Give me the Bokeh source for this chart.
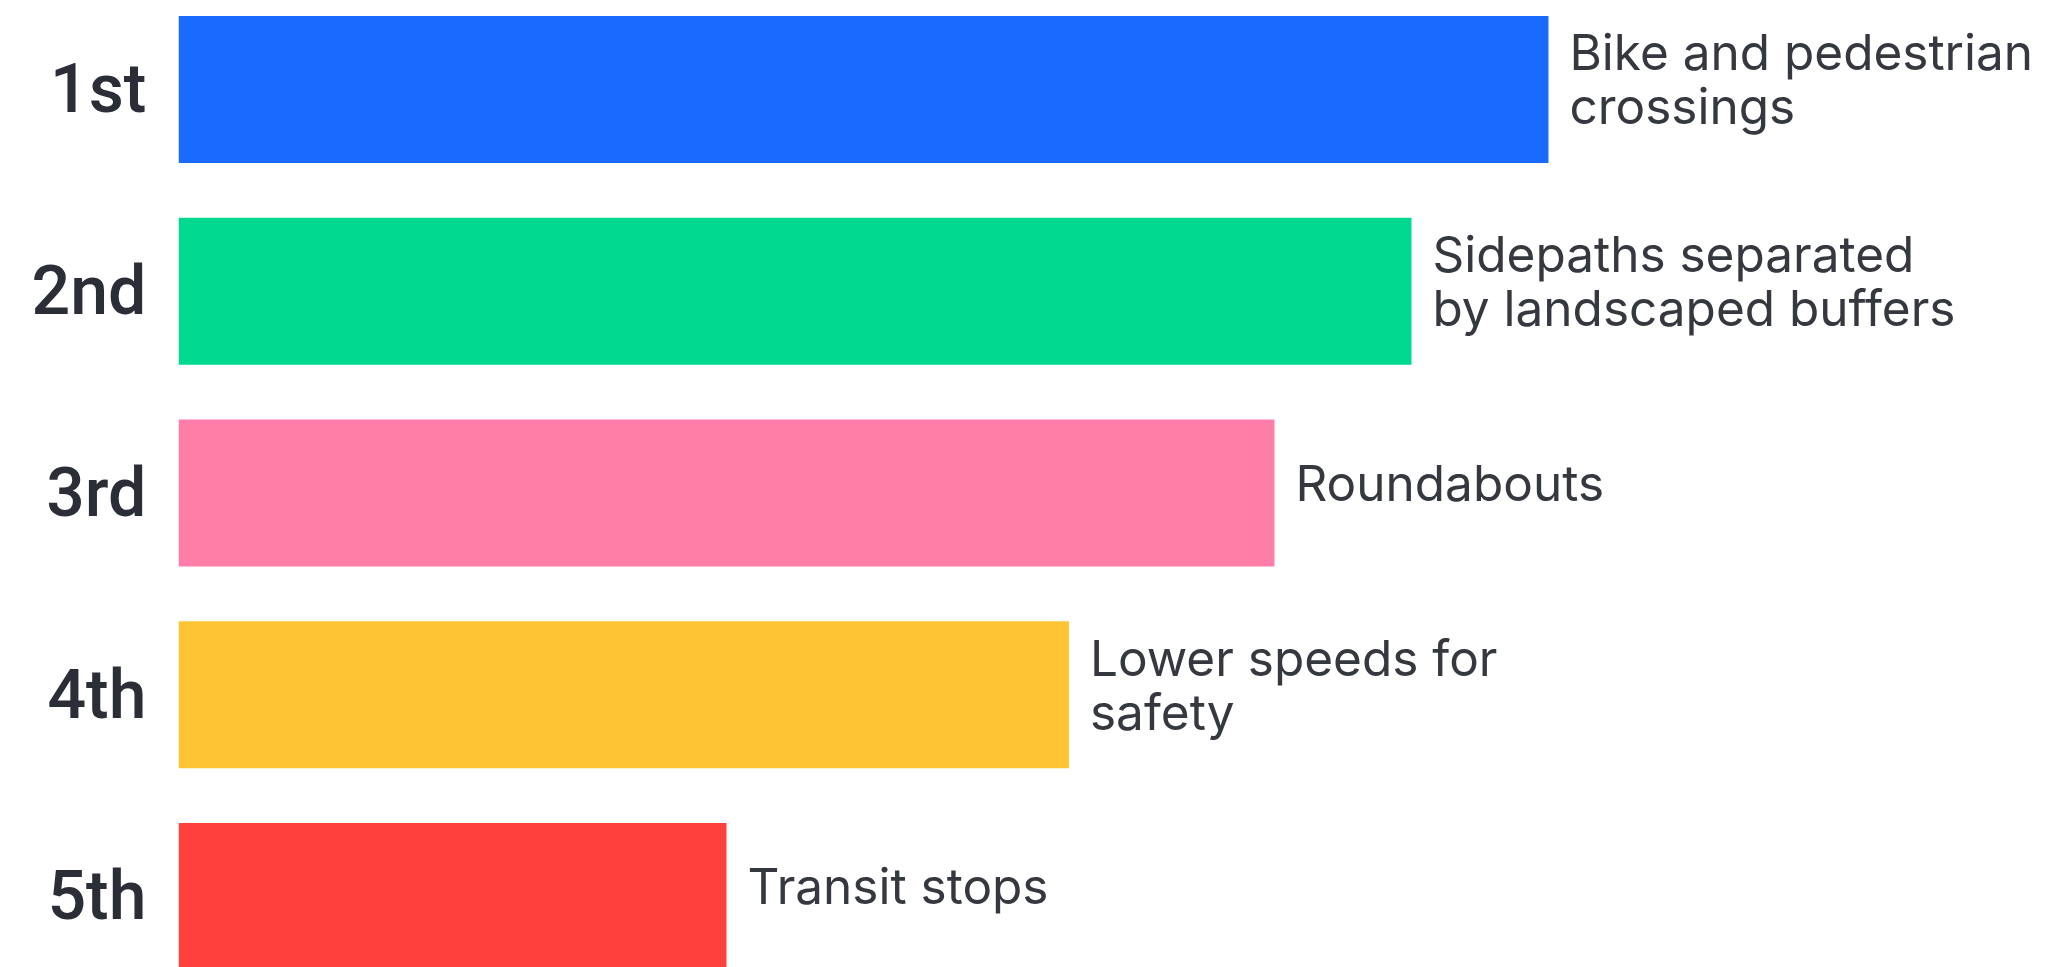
from bokeh.plotting import figure
from bokeh.models import ColumnDataSource, Range1d, FixedTicker
from bokeh.core.properties import value
from bokeh.embed import file_html
from bokeh.resources import INLINE

# ---- data ----
ranks = [1, 2, 3, 4, 5]
rank_labels = ["1st", "2nd", "3rd", "4th", "5th"]
scores = [100, 90, 80, 65, 40]
items = [
    "Bike and pedestrian\ncrossings",
    "Sidepaths separated\nby landscaped buffers",
    "Roundabouts",
    "Lower speeds for\nsafety",
    "Transit stops",
]
colors = ["#1b6aff", "#00d990", "#ff7ea8", "#fec434", "#ff403d"]

src = ColumnDataSource(dict(rank=ranks, score=scores, item=items, color=colors))

p = figure(
    width=2045, height=967,
    x_range=Range1d(0, 136.28),
    y_range=Range1d(5.352, 0.5589),
    x_axis_location=None,
    output_backend="svg", toolbar_location=None,
    min_border_left=178, min_border_right=0, min_border_top=0, min_border_bottom=0,
)
p.outline_line_color = None
p.background_fill_color = "white"
p.border_fill_color = "white"
p.xgrid.visible = False
p.ygrid.visible = False

p.hbar(y="rank", left=0, right="score", height=0.729, fill_color="color",
       line_color=None, source=src)

p.text(x="score", y="rank", text="item", source=src,
       x_offset=21, y_offset=-10,
       text_font=value("Inter"), text_font_size="49.5px",
       text_color="#35383f", text_baseline="middle", text_align="left",
       text_line_height=0.9)

ax = p.yaxis[0]
ax.ticker = FixedTicker(ticks=ranks)
ax.major_label_overrides = {r: l for r, l in zip(ranks, rank_labels)}
ax.axis_line_color = None
ax.major_tick_line_color = None
ax.minor_tick_line_color = None
ax.major_tick_out = 0
ax.major_tick_in = 0
ax.major_label_standoff = 32
ax.major_label_text_font = "'Roboto Medium', Roboto"
ax.major_label_text_font_size = "68px"
ax.major_label_text_font_style = "normal"
ax.major_label_text_color = "#2b2e36"

open("out.html", "w").write(file_html(p, INLINE))
